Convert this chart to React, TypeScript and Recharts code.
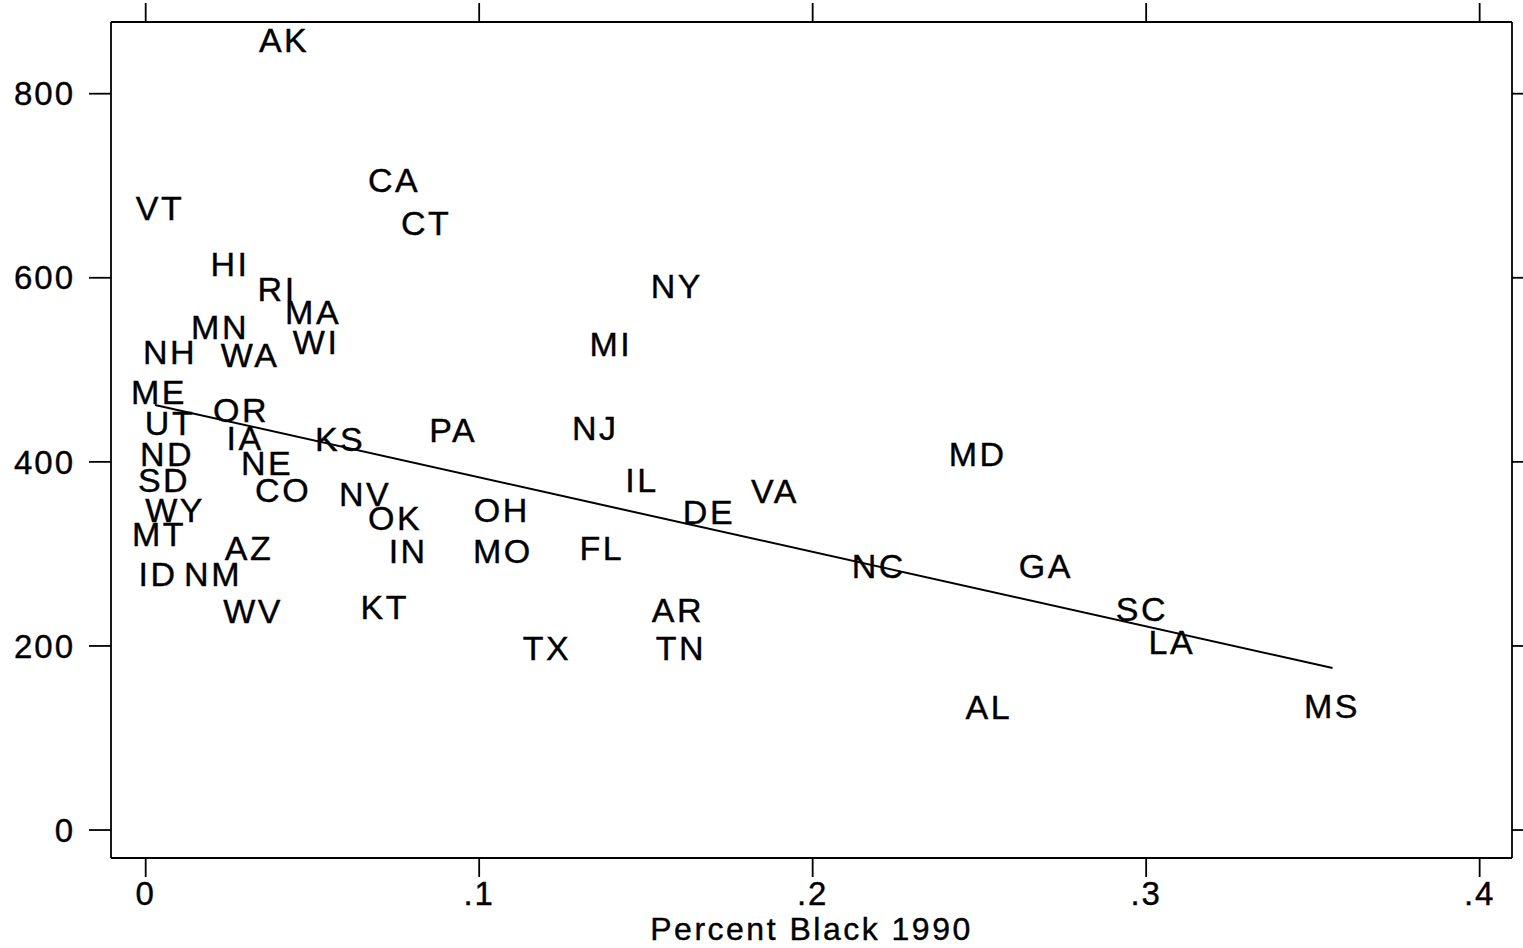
import { ScatterChart, Scatter, XAxis, YAxis } from "recharts";

const FONT = "'Liberation Sans', Arial, Helvetica, sans-serif";

// state codes and values
const stateCodes = [
  "AK", "VT", "CA", "CT", "HI", "RI", "NY", "MA", "MN", "WI",
  "NH", "WA", "MI", "ME", "OR", "UT", "IA", "KS", "PA", "NJ",
  "ND", "MD", "NE", "SD", "IL", "CO", "NV", "VA", "WY", "OH",
  "DE", "OK", "MT", "AZ", "IN", "MO", "FL", "NC", "GA", "ID",
  "NM", "WV", "KT", "AR", "SC", "LA", "TX", "TN", "AL", "MS",
];

const pctBlack = [
  0.0412, 0.004, 0.0742, 0.0838, 0.025, 0.0391, 0.159, 0.0499, 0.022, 0.0508,
  0.007, 0.031, 0.1392, 0.0037, 0.0283, 0.007, 0.0295, 0.058, 0.0919, 0.1345,
  0.0061, 0.2492, 0.0361, 0.0052, 0.1485, 0.0409, 0.0655, 0.1884, 0.0085, 0.1065,
  0.1686, 0.0745, 0.0037, 0.0307, 0.0784, 0.1068, 0.1365, 0.2195, 0.2696, 0.0034,
  0.0199, 0.0319, 0.0714, 0.1593, 0.2984, 0.3074, 0.12, 0.1602, 0.2525, 0.3554,
];

const yValues = [
  858, 676, 706, 660, 615, 588, 591, 563, 546, 530,
  519, 516, 528, 476, 456, 442, 426, 425, 435, 437,
  408, 408, 399, 380, 380, 369, 365, 368, 348, 348,
  345, 339, 322, 306, 303, 303, 306, 287, 287, 278,
  278, 238, 242, 239, 240, 204, 198, 198, 134, 135,
];

// fitted line end points
const fitX = [0.0028, 0.3559];
const fitY = [461.8, 176.0];

const xTicks = [0, 0.1, 0.2, 0.3, 0.4];
const yTicks = [0, 200, 400, 600, 800];

const stateData = stateCodes.map((code, i) => ({ code, x: pctBlack[i], y: yValues[i] }));
const fitData = fitX.map((x, i) => ({ x, y: fitY[i] }));

const fmtX = (v: number) => (v === 0 ? "0" : String(v).replace(/^0/, ""));

const StateLabel = (props: any) => {
  const { cx, cy, payload } = props;
  if (cx == null || cy == null) return <g />;
  return (
    <text
      x={cx + 1}
      y={cy + 12}
      textAnchor="middle"
      fontSize={34}
      fontFamily={FONT}
      letterSpacing={2.5}
      fill="#000"
      stroke="#000"
      strokeWidth={0.4}
    >
      {payload.code}
    </text>
  );
};

const NoTick = () => <g />;

export default function App() {
  const axisStroke = { stroke: "#000", strokeWidth: 1.8 };
  const tickStyle = {
    fontSize: 33,
    fontFamily: FONT,
    fill: "#000",
    stroke: "#000",
    strokeWidth: 0.4,
    letterSpacing: 2,
  };

  return (
    <div style={{ position: "absolute", left: 0, top: 0, background: "#fff" }}>
      <ScatterChart width={1523} height={948} margin={{ top: 0, right: 0, bottom: 0, left: 0 }}>
        <XAxis
          xAxisId="bottom"
          dataKey="x"
          type="number"
          domain={[-0.0104, 0.4097]}
          ticks={xTicks}
          tickFormatter={fmtX}
          allowDataOverflow
          height={90}
          tickSize={19}
          tickMargin={5}
          axisLine={axisStroke}
          tickLine={axisStroke}
          tick={tickStyle}
          label={{
            value: "Percent Black 1990",
            position: "insideBottom",
            offset: 8,
            fontSize: 32,
            fontFamily: FONT,
            fill: "#000",
            stroke: "#000",
            strokeWidth: 0.4,
            letterSpacing: 2.5,
          }}
        />
        <XAxis
          xAxisId="top"
          orientation="top"
          dataKey="x"
          type="number"
          domain={[-0.0104, 0.4097]}
          ticks={xTicks}
          allowDataOverflow
          height={22}
          tickSize={19}
          axisLine={axisStroke}
          tickLine={axisStroke}
          tick={NoTick}
        />
        <YAxis
          yAxisId="left"
          dataKey="y"
          type="number"
          domain={[-30.4, 877.9]}
          ticks={yTicks}
          allowDataOverflow
          width={111}
          tickSize={22}
          tickMargin={14}
          axisLine={axisStroke}
          tickLine={axisStroke}
          tick={tickStyle}
        />
        <YAxis
          yAxisId="right"
          orientation="right"
          dataKey="y"
          type="number"
          domain={[-30.4, 877.9]}
          ticks={yTicks}
          allowDataOverflow
          width={11}
          tickSize={11}
          axisLine={axisStroke}
          tickLine={axisStroke}
          tick={NoTick}
        />
        <Scatter
          data={fitData}
          xAxisId="bottom"
          yAxisId="left"
          line={{ stroke: "#000", strokeWidth: 2 }}
          shape={NoTick}
          isAnimationActive={false}
        />
        <Scatter
          data={stateData}
          xAxisId="bottom"
          yAxisId="left"
          shape={StateLabel}
          isAnimationActive={false}
        />
      </ScatterChart>
    </div>
  );
}
